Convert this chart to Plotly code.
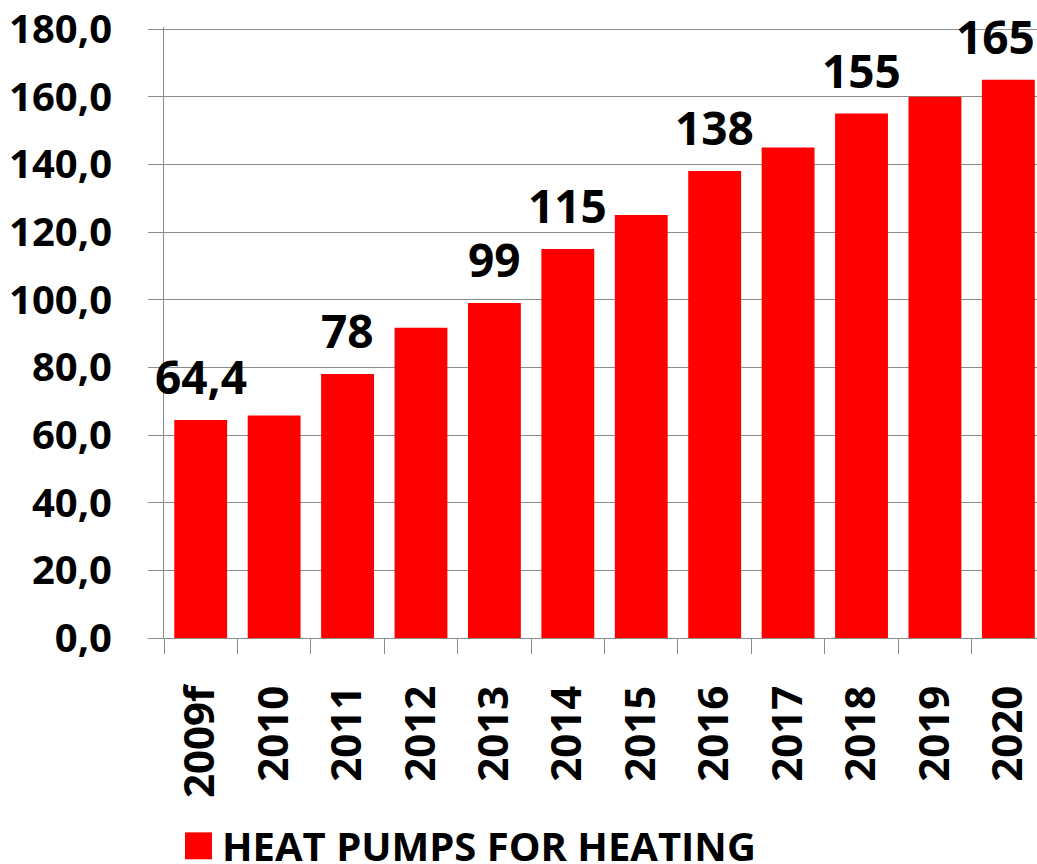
import plotly.graph_objects as go

categories = ["2009f", "2010", "2011", "2012", "2013", "2014", "2015", "2016", "2017", "2018", "2019", "2020"]
values = [64.4, 65.8, 78, 91.7, 99, 115, 125, 138, 145, 155, 160, 165]
labels = ["64,4", "", "78", "", "99", "115", "", "138", "", "155", "", "165"]
series_name = "HEAT PUMPS FOR HEATING"
y_ticks = [0, 20, 40, 60, 80, 100, 120, 140, 160, 180]

FONT = "Open Sans"
GRID = "#8c8c8c"

fig = go.Figure()
fig.add_trace(go.Bar(
    x=list(range(len(categories))), y=values, name=series_name,
    marker=dict(color="#ff0000", line=dict(width=0)),
    width=0.72, showlegend=False,
))

for i, (v, t) in enumerate(zip(values, labels)):
    if not t:
        continue
    fig.add_annotation(
        x=i, y=v, text=t, showarrow=False, yanchor="bottom", xanchor="center",
        yshift=11, xshift=(-13 if i == len(categories) - 1 else 0),
        font=dict(family=FONT, size=46, color="black", weight="bold"),
    )

# custom legend (plot area spans 613 px vertically, 873 px horizontally)
fig.add_shape(type="rect", xref="paper", yref="paper",
              x0=(185 - 164) / 873, x1=(212 - 164) / 873,
              y0=-(833 - 638) / 613, y1=-(860 - 638) / 613,
              fillcolor="#ff0000", line=dict(width=0))
fig.add_annotation(xref="paper", yref="paper", x=(220 - 164) / 873, y=-(846 - 638) / 613,
                   xanchor="left", yanchor="middle", text=series_name, showarrow=False,
                   height=34, valign="middle",
                   font=dict(family=FONT, size=40, color="black", weight="bold"))

fig.update_layout(
    width=1037, height=864,
    margin=dict(l=164, r=0, t=25, b=226),
    plot_bgcolor="white", paper_bgcolor="white",
    separators=", ",
)
fig.update_xaxes(
    type="linear", range=[-0.5, 11.39],
    tickmode="array", tickvals=list(range(len(categories))), ticktext=categories,
    ticks="", showline=True, linecolor=GRID, linewidth=1, showgrid=False,
    minor=dict(tickmode="array", tickvals=[i - 0.5 for i in range(len(categories) + 1)],
               ticks="outside", ticklen=15, tickcolor=GRID, tickwidth=1, showgrid=False),
    tickangle=-90, ticklabelstandoff=30, zeroline=False, ticklabeloverflow="allow",
    tickfont=dict(family=FONT, size=42, color="black", weight="bold"),
)
fig.update_yaxes(
    range=[0, 180.6], tickvals=y_ticks, tickformat=".1f",
    ticks="outside", ticklen=15, tickcolor=GRID, tickwidth=1,
    showline=True, linecolor=GRID, linewidth=1,
    showgrid=True, gridcolor=GRID, gridwidth=1, zeroline=False,
    ticklabelstandoff=28, ticklabeloverflow="allow",
    tickfont=dict(family=FONT, size=40, color="black", weight="bold"),
)

fig.write_html("out.html", config={"displayModeBar": False},
               post_script="document.body.style.margin='0';document.body.style.overflow='hidden';")
